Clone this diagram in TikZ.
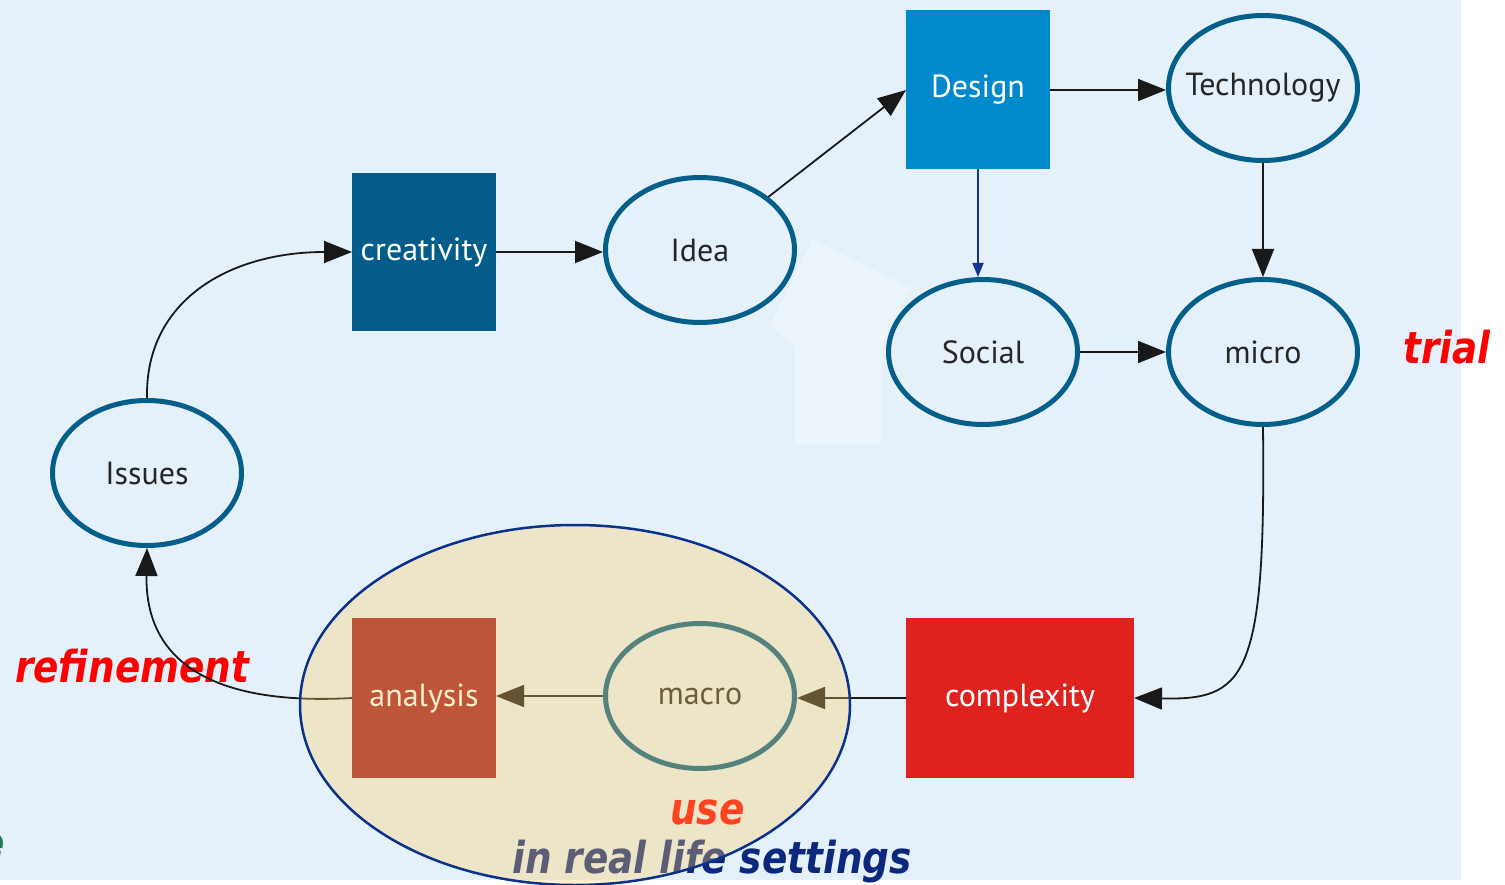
\documentclass[tikz,border=0pt]{standalone}
\usepackage{fontspec}
\setmainfont{PT Sans}
\newfontfamily\notefont[FakeStretch=0.85]{DejaVu Sans}
\usetikzlibrary{arrows.meta,shapes.geometric}

\definecolor{bgblue}{RGB}{228,241,250}
\definecolor{ovalblue}{RGB}{4,94,138}
\definecolor{creablue}{RGB}{3,92,138}
\definecolor{designblue}{RGB}{0,137,205}
\definecolor{cplxred}{RGB}{224,34,31}
\definecolor{anared}{RGB}{158,29,37}
\definecolor{setgold}{RGB}{255,205,100}
\definecolor{navy}{RGB}{11,40,125}
\definecolor{rimblue}{RGB}{10,50,140}
\definecolor{socialblue}{RGB}{20,55,140}
\definecolor{notegreen}{RGB}{30,128,80}

\begin{document}
\begin{tikzpicture}[x=1pt,y=-1pt,
  arr/.style={-{Triangle[length=28pt,width=22pt]},line width=1.8pt,black!90},
  box/.style={rectangle,inner sep=0pt,outer sep=0pt,minimum width=144pt,minimum height=158pt,
    text=white,font=\fontsize{32}{36}\selectfont},
  oval/.style={ellipse,draw=ovalblue,line width=5pt,inner sep=0pt,minimum width=189pt,
    minimum height=145pt,text=black!85,font=\fontsize{32}{36}\selectfont},
  note/.style={inner sep=0pt,font=\notefont\bfseries\itshape\fontsize{44}{50}\selectfont}]

  \useasboundingbox (0,0) rectangle (1505,885);
  \fill[bgblue] (0,0) rectangle (1461,880);

  % faint ghost shape
  \fill[white,opacity=0.3] (813,239) -- (910,288) -- (881,345) -- (881,444) -- (795,444)
    -- (795,347) -- (770,325) -- cycle;

  % labels
  \node[note,text=red,anchor=base west] (trial) at (1403,363) {trial};
  \node[note,text=red,anchor=base west] (refinement) at (15,682) {refinement};
  \node[note,text=red,anchor=base west] (use) at (670,824) {use};
  \node[note,text=navy,anchor=base west] (settings) at (512,873) {in real life settings};
  \node[note,text=notegreen,anchor=base east] (cut) at (5,858) {e};

  % boxes
  \node[box,fill=creablue] (creativity) at (424,252) {creativity};
  \node[box,fill=designblue,minimum height=159pt] (design) at (978,90) {Design};
  \node[box,fill=cplxred,minimum width=228pt,minimum height=160pt] (complexity) at (1020,698) {complexity};
  \node[box,fill=anared,minimum height=160pt] (analysis) at (424,698) {analysis};

  % ovals
  \node[oval] (idea) at (700,250) {\makebox[0pt]{Idea}};
  \node[oval] (technology) at (1263,88) {\makebox[0pt]{Technology}};
  \node[oval] (social) at (983,352) {\makebox[0pt]{Social}};
  \node[oval] (micro) at (1263,352) {\makebox[0pt]{micro}};
  \node[oval] (issues) at (147,473) {\makebox[0pt]{Issues}};
  \node[oval] (macro) at (700,696) {\makebox[0pt]{macro}};

  % cycle
  \draw[arr] (issues.north) .. controls (145,300) and (230,252) .. (creativity.west);
  \draw[arr] (creativity) -- (creativity -| idea.west);
  \draw[arr] (idea) -- (design.west);
  \draw[arr] (design.east) -- (design.east -| technology.west);
  \draw[-{Triangle[length=14pt,width=11pt]},line width=1.8pt,socialblue] (design.south) -- (design.south |- social.north);
  \draw[arr] (technology.south) -- (micro.north);
  \draw[arr] (social) -- (micro);
  \draw[arr] (micro.south) .. controls (1266,680) and (1245,700) .. (complexity.east);
  \draw[arr] (complexity) -- (complexity -| macro.east);
  \draw[arr] (macro) -- (macro -| analysis.east);
  \draw[arr] (analysis.west) .. controls (210,706) and (145,660) .. (issues.south);

  % real life setting
  \fill[setgold,fill opacity=0.33] (575,705) ellipse [x radius=275,y radius=180];
  \draw[rimblue,line width=2.5pt] (575,705) ellipse [x radius=275,y radius=180];

\end{tikzpicture}
\end{document}
